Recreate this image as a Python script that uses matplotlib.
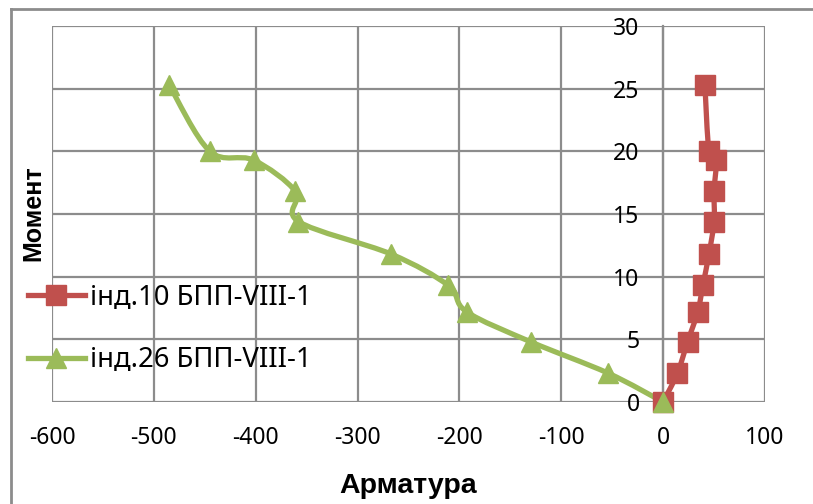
import matplotlib
matplotlib.use("Agg")
import matplotlib.pyplot as plt
from matplotlib.path import Path
from matplotlib.patches import PathPatch
from matplotlib.lines import Line2D
import numpy as np

# Moment levels and reinforcement readings for the two gauges
moment = [0, 2.3, 4.8, 7.2, 9.3, 11.8, 14.4, 16.8, 19.3, 20.0, 25.3]
ind10 = [0, 14, 24, 34, 39, 45, 50, 50, 52, 45, 41]
ind26 = [0, -54, -130, -193, -211, -267, -358, -361, -402, -445, -485]

labels = ["інд.10 БПП-VIII-1", "інд.26 БПП-VIII-1"]
x_ticks = [-600, -500, -400, -300, -200, -100, 0, 100]
y_ticks = [0, 5, 10, 15, 20, 25, 30]

RED = "#C0504D"
GREEN = "#9BBB59"
GRID = "#8C8C8C"

plt.rcParams["font.family"] = ["Noto Sans", "DejaVu Sans"]
plt.rcParams["axes.unicode_minus"] = False


def smooth_path(xs, ys):
    """Cubic Bezier path through the points (Catmull-Rom style smoothing)."""
    pts = np.column_stack([xs, ys]).astype(float)
    n = len(pts)
    verts = [pts[0]]
    codes = [Path.MOVETO]
    for i in range(n - 1):
        p0 = pts[i - 1] if i > 0 else pts[i]
        p1 = pts[i]
        p2 = pts[i + 1]
        p3 = pts[i + 2] if i + 2 < n else pts[i + 1]
        c1 = p1 + (p2 - p0) / 6.0
        c2 = p2 - (p3 - p1) / 6.0
        verts += [c1, c2, p2]
        codes += [Path.CURVE4] * 3
    return Path(verts, codes)


fig = plt.figure(figsize=(8.13, 5.04), dpi=100)
ax = fig.add_axes([52 / 813, 1 - 402 / 504, (765 - 52) / 813, (402 - 26) / 504])

ax.set_xlim(-600, 100)
ax.set_ylim(0, 30)
ax.set_xticks(x_ticks)
ax.set_yticks(y_ticks)
ax.grid(True, color=GRID, linewidth=1.6)
ax.set_axisbelow(True)

for name in ["top", "right", "bottom"]:
    ax.spines[name].set_visible(False)
ax.spines["left"].set_position(("data", 0))
ax.spines["left"].set_color(GRID)
ax.spines["left"].set_linewidth(1.6)

ax.tick_params(axis="both", length=0, labelsize=16.5)
ax.tick_params(axis="x", pad=17.5)
ax.tick_params(axis="y", pad=17)

series = [(ind10, RED, "s", labels[0]), (ind26, GREEN, "^", labels[1])]
for xs, col, mk, lab in series:
    ax.add_patch(PathPatch(smooth_path(xs, moment), fill=False, edgecolor=col,
                           linewidth=3.8, capstyle="round", joinstyle="round",
                           zorder=3))
    ax.plot(xs, moment, linestyle="none", marker=mk, markersize=15,
            color=col, zorder=4, clip_on=False)

handles = [Line2D([], [], color=RED, linewidth=3.8, marker="s", markersize=15),
           Line2D([], [], color=GREEN, linewidth=3.8, marker="^", markersize=15)]
ax.legend(handles, labels, loc="upper left", bbox_to_anchor=(28 / 813, 1 - 284 / 504),
          bbox_transform=fig.transFigure, frameon=False, fontsize=19.8,
          handlelength=2.07, handletextpad=0.2, labelspacing=1.25, borderpad=0,
          borderaxespad=0)

ax.set_xlabel("Арматура", fontsize=20.5, fontweight="bold",
              family=["Liberation Sans", "DejaVu Sans"], labelpad=16)
fig.text(33 / 813, 1 - 213 / 504, "Момент", rotation=90, fontsize=18,
         fontweight="bold", family=["Liberation Sans", "DejaVu Sans"],
         ha="center", va="center")

# outer chart frame
fig.add_artist(Line2D([11 / 813, 11 / 813], [0, 1 - 9 / 504], color=GRID,
                      linewidth=2, transform=fig.transFigure))
fig.add_artist(Line2D([11 / 813, 1], [1 - 9 / 504, 1 - 9 / 504], color=GRID,
                      linewidth=2, transform=fig.transFigure))

fig.savefig("out.png", dpi=100)
